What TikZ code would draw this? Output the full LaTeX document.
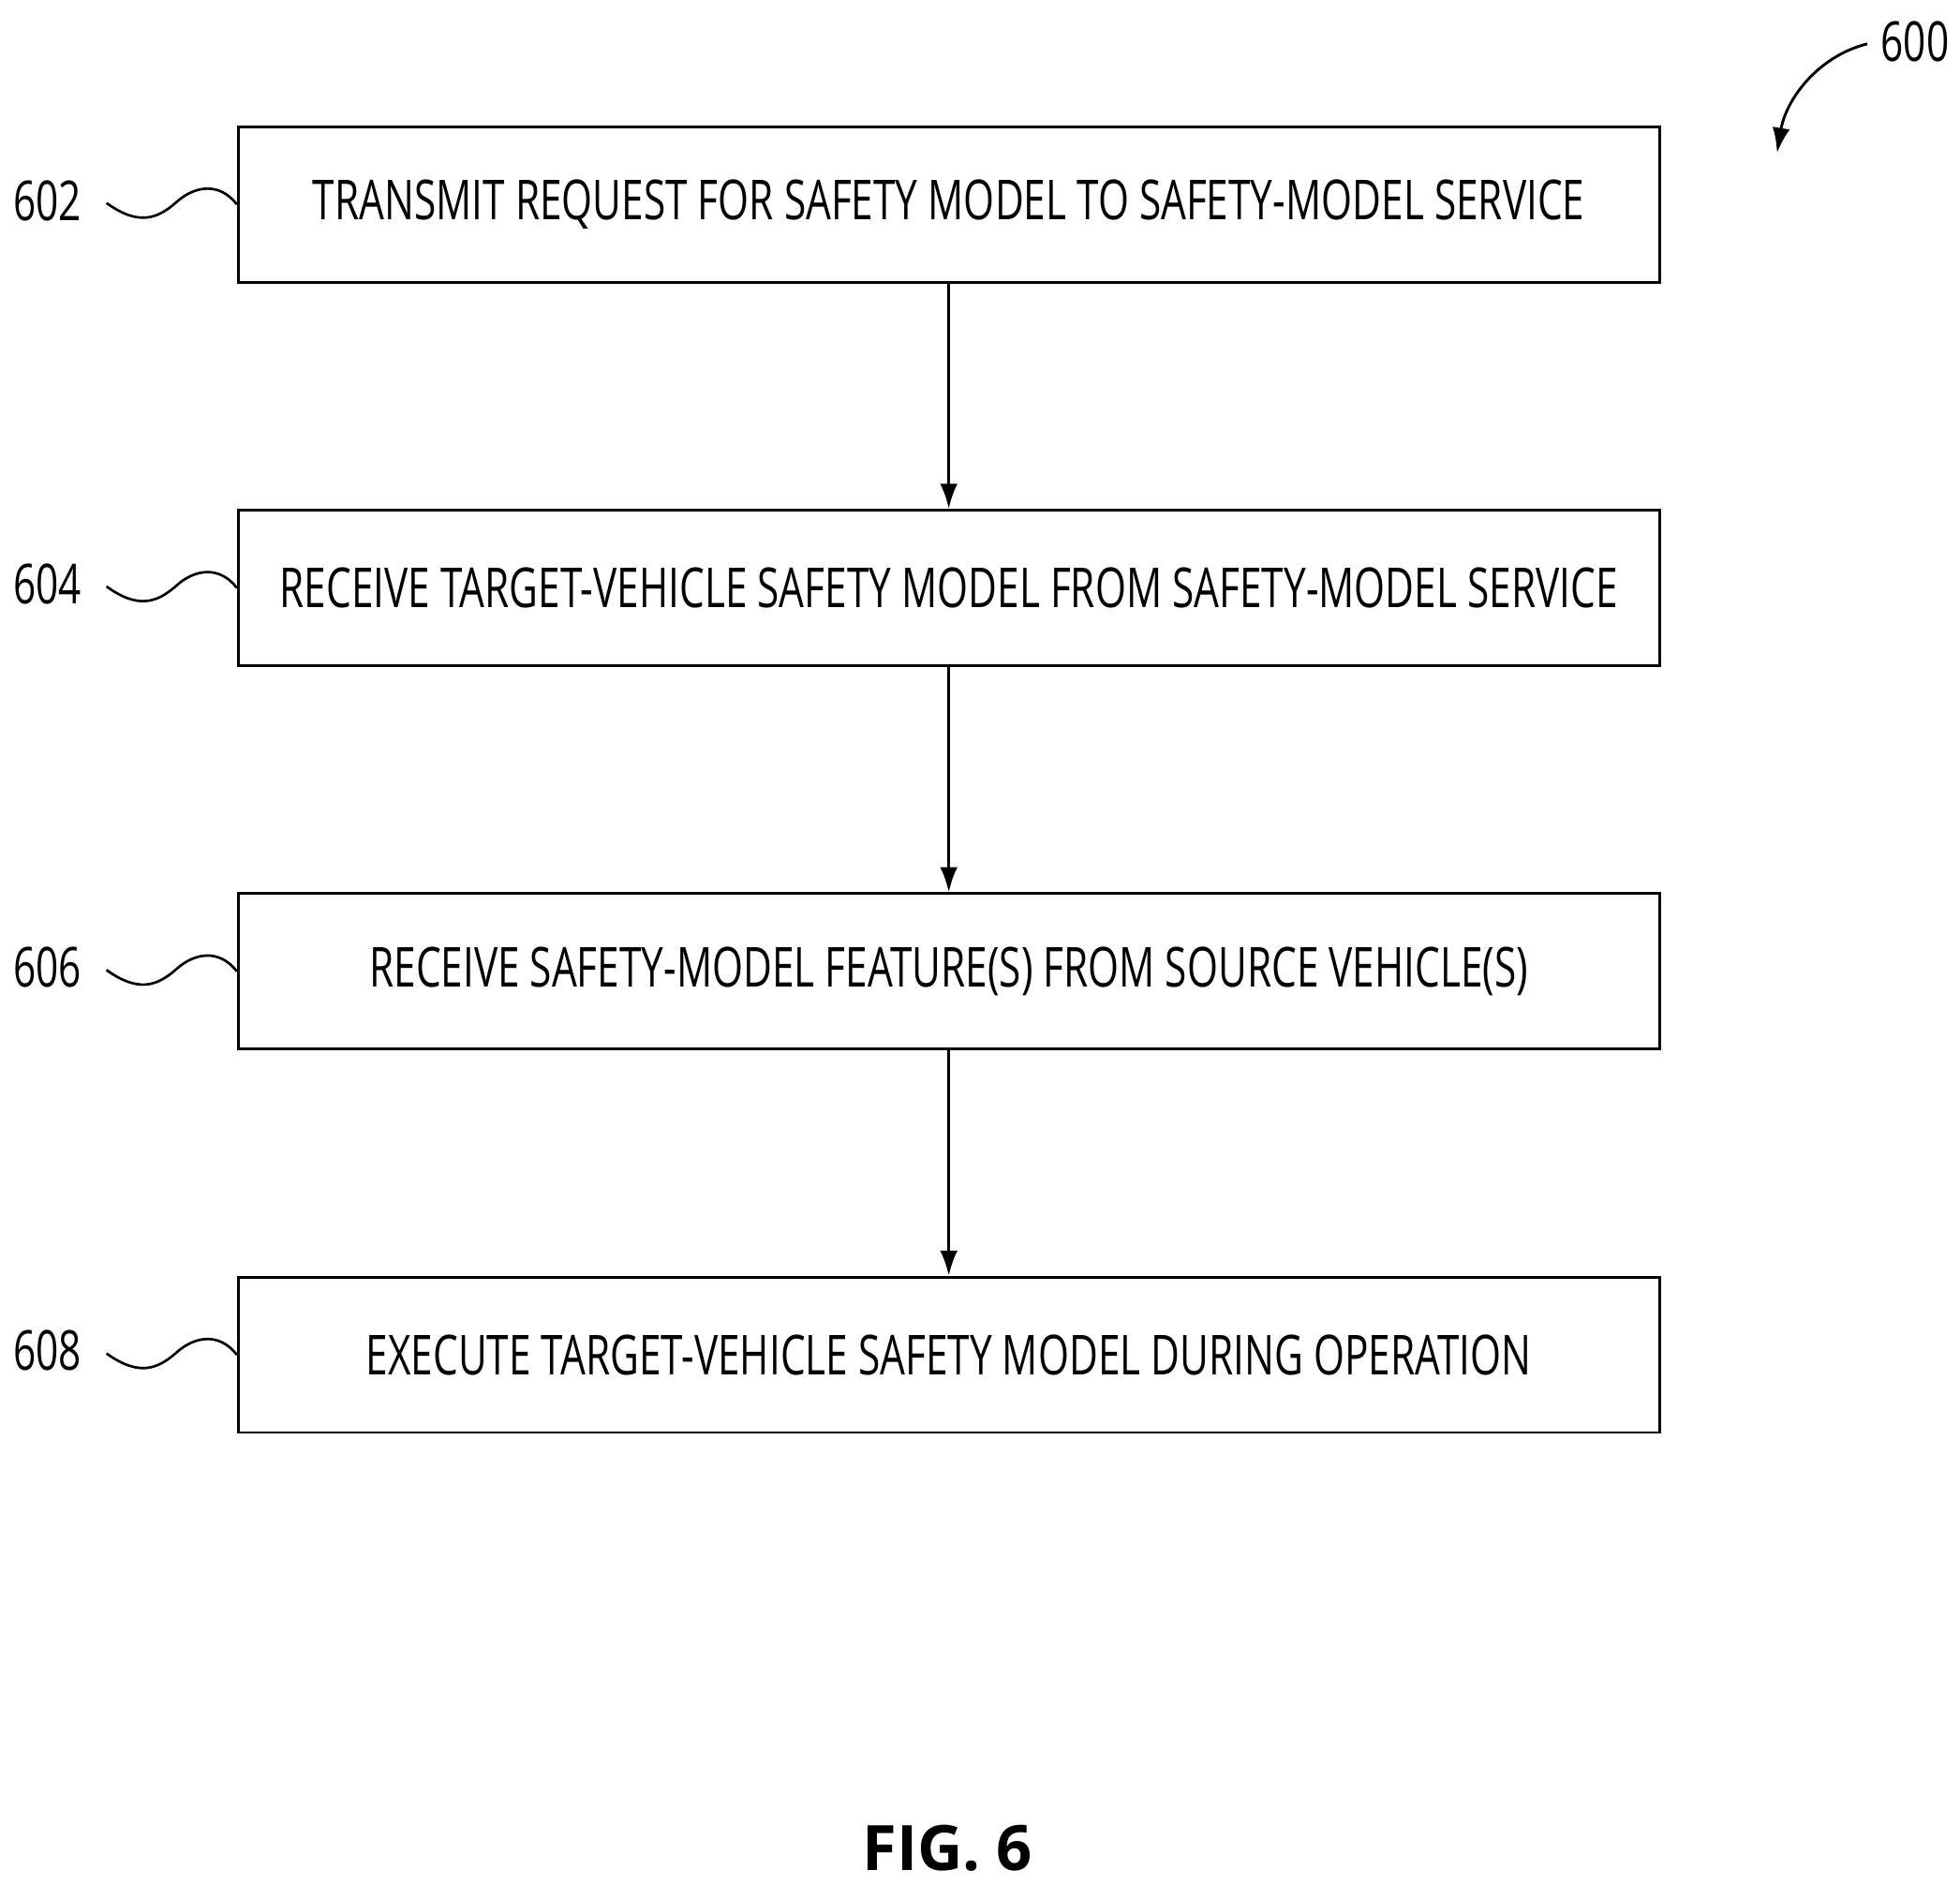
\documentclass[tikz,border=0pt]{standalone}
\usepackage{fontspec}
\setmainfont{Open Sans}
\begin{document}
\begin{tikzpicture}[x=1pt,y=-1pt,
  box/.style={draw,line width=2.2pt,minimum width=1134pt,minimum height=124pt,anchor=north west,inner sep=0pt},
  txt/.style={font=\fontsize{44}{50}\selectfont},
  arr/.style={line width=2.2pt,-{Latex[length=20pt,width=14pt]}},
  sq/.style={line width=2pt}]
\useasboundingbox (0,0) rectangle (1564,1504);
\usetikzlibrary{arrows.meta}
\foreach \n/\y/\t in {602/100/TRANSMIT REQUEST FOR SAFETY MODEL TO SAFETY-MODEL SERVICE,
  604/406/RECEIVE TARGET-VEHICLE SAFETY MODEL FROM SAFETY-MODEL SERVICE,
  606/712/RECEIVE SAFETY-MODEL FEATURE(S) FROM SOURCE VEHICLE(S),
  608/1018/EXECUTE TARGET-VEHICLE SAFETY MODEL DURING OPERATION}{
  \node[box] (b\n) at (189,\y) {};
  \node[txt] at (b\n.center) {\scalebox{0.72}[1]{\t}};
  \node[txt,anchor=center] (l\n) at (38,\y+60) {\scalebox{0.72}[1]{\n}};
  \draw[sq] (85,\y+62) .. controls (110,\y+80) and (125,\y+75) .. (140,\y+62)
     .. controls (155,\y+48) and (175,\y+45) .. (b\n.west);
}
\draw[arr] (b602.south) -- (b604.north);
\draw[arr] (b604.south) -- (b606.north);
\draw[arr] (b606.south) -- (b608.north);
\node[txt] (l600) at (1528,33) {\scalebox{0.72}[1]{600}};
\coordinate (t600) at (1418,122);
\draw[arr] (1490,35) .. controls (1450,45) and (1425,80) .. (t600);
\node[font=\bfseries\fontsize{50}{56}\selectfont] (fig) at (756,1475) {FIG. 6};
\end{tikzpicture}
\end{document}
